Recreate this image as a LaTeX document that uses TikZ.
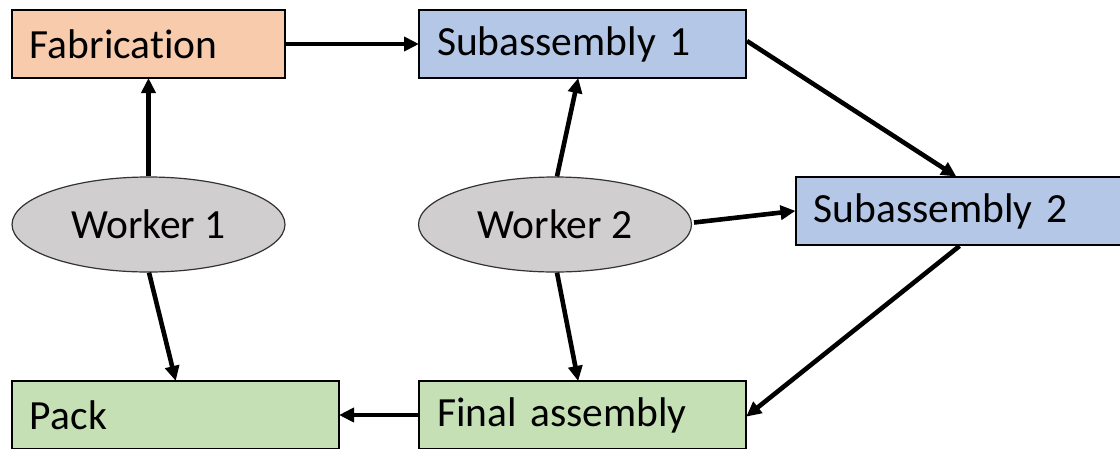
\documentclass[tikz,border=0pt]{standalone}
\usepackage{fontspec}
\setmainfont[Ligatures={NoCommon}]{Carlito}
\usetikzlibrary{arrows.meta,shapes.geometric}
\definecolor{peach}{HTML}{F8CBAD}
\definecolor{paleblue}{HTML}{B4C7E7}
\definecolor{palegrey}{HTML}{D0CECE}
\definecolor{palegreen}{HTML}{C5E0B4}
\begin{document}
\begin{tikzpicture}[x=1pt,y=-1pt,
  stagebox/.style={draw=black, line width=2pt, rectangle, inner xsep=18pt, inner ysep=0pt,
    minimum height=68pt, align=left, font=\fontsize{41.5}{46}\selectfont},
  workerell/.style={draw=black!80, line width=1.2pt, ellipse, fill=palegrey, inner sep=0pt,
    minimum width=273pt, minimum height=95pt, font=\fontsize{41.5}{46}\selectfont},
  flow/.style={line width=4.6pt, -{Triangle[length=15pt,width=14pt]}, shorten >=-1pt}]
  \useasboundingbox (0,0) rectangle (1120,448);

  % process stages
  \node[stagebox, fill=peach, text width=237pt] (fab) at (148.5,44) {Fabrication};
  \node[stagebox, fill=paleblue, text width=291pt] (sub1) at (582.5,44) {Subassembly 1};
  \node[stagebox, fill=paleblue, text width=290pt] (sub2) at (958.5,211) {Subassembly 2};
  \node[stagebox, fill=palegreen, text width=291pt] (pack) at (175.5,415) {Pack};
  \node[stagebox, fill=palegreen, text width=291pt] (final) at (582.5,415) {Final assembly};

  % workers
  \node[workerell] (w1) at (148.5,224.5) {Worker 1};
  \node[workerell] (w2) at (555,224.5) {Worker 2};

  % material flow
  \draw[flow] (fab.east) -- (sub1.west);
  \draw[flow] (w1.north) -- (fab.south);
  \draw[flow] ([xshift=0.5pt]w1.south) -- (pack.north);
  \draw[flow] ([xshift=2pt]w2.north) -- ([xshift=-4.5pt]sub1.south);
  \draw[flow] ([xshift=2pt]w2.south) -- ([xshift=-4.5pt]final.north);
  \draw[flow] ([xshift=139pt,yshift=2pt]w2.center) -- (sub2.west);
  \draw[flow] ([yshift=3pt]sub1.east) -- ([xshift=-3pt]sub2.north);
  \draw[flow] ([xshift=1pt]sub2.south) -- ([yshift=-1pt]final.east);
  \draw[flow] (final.west) -- (pack.east);
\end{tikzpicture}
\end{document}
